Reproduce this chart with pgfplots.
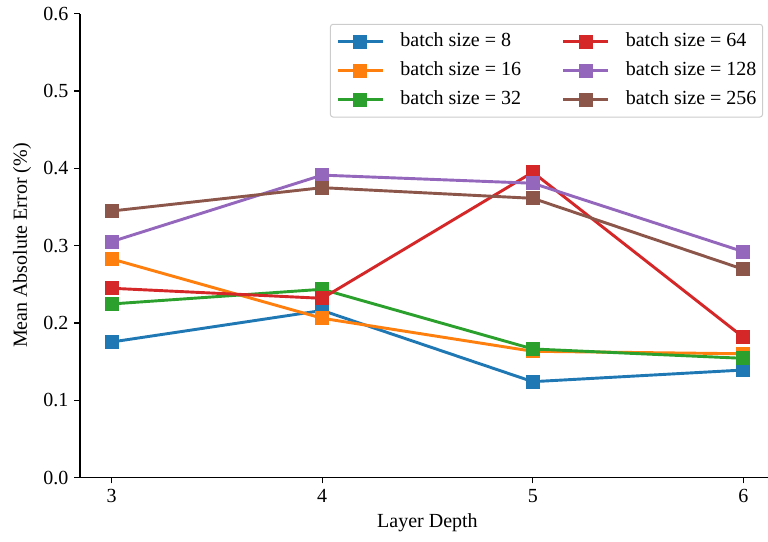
\documentclass[border=0pt]{standalone}
\usepackage{fontspec}
\setmainfont{Liberation Serif}
\usepackage{pgfplots}
\pgfplotsset{compat=1.18}
\definecolor{tabblue}{HTML}{1F77B4}
\definecolor{taborange}{HTML}{FF7F0E}
\definecolor{tabgreen}{HTML}{2CA02C}
\definecolor{tabred}{HTML}{D62728}
\definecolor{tabpurple}{HTML}{9467BD}
\definecolor{tabbrown}{HTML}{8C564B}
\begin{document}
\begin{tikzpicture}
\begin{axis}[
  scale only axis,
  width=417bp, height=278.4bp,
  xmin=2.85, xmax=6.15, ymin=0, ymax=0.6,
  xtick={3,4,5,6}, ytick={0,0.1,0.2,0.3,0.4,0.5,0.6},
  yticklabel style={/pgf/number format/.cd, fixed, fixed zerofill, precision=1},
  /pgf/number format/assume math mode=true,
  tick align=outside, tick pos=left,
  major tick length=3.5bp,
  every tick/.style={black, line width=0.8bp},
  axis line style={line width=0.8bp},
  axis x line*=bottom, axis y line*=left,
  font=\fontsize{12bp}{14bp}\selectfont,
  ticklabel style={font=\fontsize{12bp}{14bp}\selectfont},
  xlabel={Layer Depth}, ylabel={Mean Absolute Error (\%)},
  xlabel style={at={(axis description cs:0.5,0)}, anchor=center, yshift=-27bp},
  ylabel style={at={(axis description cs:-0.0835,0.5)}, anchor=center},
  legend columns=3,
  transpose legend,
  legend cell align=left,
  legend image code/.code={\draw[mark repeat=2,mark phase=2,#1] plot coordinates {(0bp,0bp) (13.5bp,0bp) (27bp,0bp)};},
  legend style={at={(rel axis cs:1,1)}, anchor=north east, xshift=-7.2bp, yshift=-6.2bp,
    draw=black!20, line width=0.6bp, rounded corners=1.5bp, fill=white, fill opacity=0.8, text opacity=1, draw opacity=1,
    inner xsep=3.6bp, inner ysep=4.4bp, row sep=5.4bp,
    nodes={inner sep=0bp, text height=9bp, text depth=3bp},
    font=\fontsize{12bp}{14bp}\selectfont,
    /tikz/every odd column/.append style={column sep=9.6bp},
    /tikz/every even column/.append style={column sep=24.5bp}},
  every axis plot/.append style={line width=1.75bp, mark=square*, mark size=3.9bp},
  clip=false,
]
\addplot[tabblue, mark options={solid, fill=tabblue, draw=tabblue, line width=0.6bp, opacity=1}] coordinates {(3,0.1752) (4,0.216) (5,0.1239) (6,0.139)};
\addlegendentry{batch size = 8}
\addplot[taborange, mark options={solid, fill=taborange, draw=taborange, line width=0.6bp, opacity=1}] coordinates {(3,0.2826) (4,0.2059) (5,0.1632) (6,0.160)};
\addlegendentry{batch size = 16}
\addplot[tabgreen, mark options={solid, fill=tabgreen, draw=tabgreen, line width=0.6bp, opacity=1}] coordinates {(3,0.2244) (4,0.2434) (5,0.1662) (6,0.1541)};
\addlegendentry{batch size = 32}
\addplot[tabred, mark options={solid, fill=tabred, draw=tabred, line width=0.6bp, opacity=1}] coordinates {(3,0.2447) (4,0.2317) (5,0.3947) (6,0.1813)};
\addlegendentry{batch size = 64}
\addplot[tabpurple, mark options={solid, fill=tabpurple, draw=tabpurple, line width=0.6bp, opacity=1}] coordinates {(3,0.305) (4,0.391) (5,0.3805) (6,0.292)};
\addlegendentry{batch size = 128}
\addplot[tabbrown, mark options={solid, fill=tabbrown, draw=tabbrown, line width=0.6bp, opacity=1}] coordinates {(3,0.3446) (4,0.3748) (5,0.361) (6,0.2692)};
\addlegendentry{batch size = 256}
\end{axis}
\pgfresetboundingbox
\path[use as bounding box] (-48bp,-38.1bp) rectangle (412.8bp,286.5bp);
\end{tikzpicture}
\end{document}
